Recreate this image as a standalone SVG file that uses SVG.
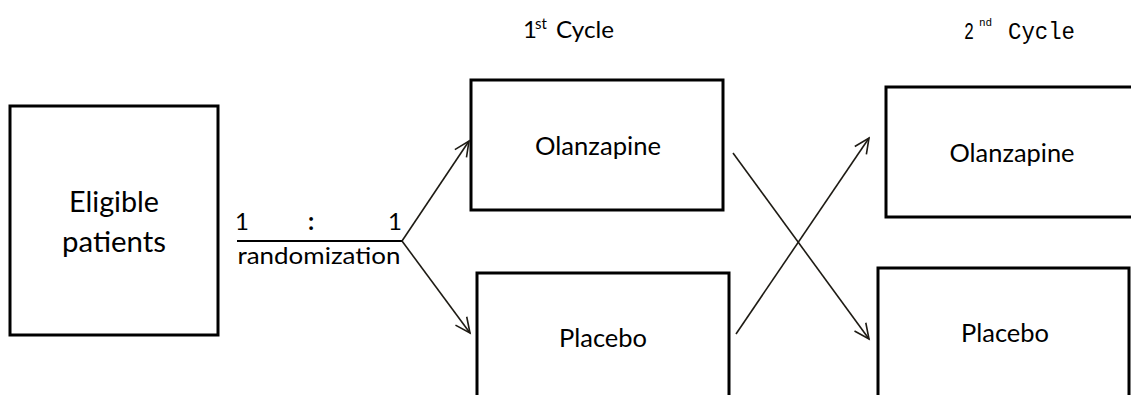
<svg xmlns="http://www.w3.org/2000/svg" width="1131" height="395" viewBox="0 0 1131 395">
<style>
.box{fill:#fff;stroke:#000;stroke-width:3}
.lbl{font-family:Lato,"Open Sans",sans-serif;fill:#000;text-anchor:middle}
.con{fill:none;stroke:#1e1b14;stroke-width:1.6}
.mono{font-family:"Liberation Mono",monospace;fill:#000}
</style>
<defs>
<marker id="arr" markerUnits="userSpaceOnUse" markerWidth="24" markerHeight="24" viewBox="-20 -12 24 24" refX="0" refY="0" orient="auto">
<path d="M-15,-7 L0,0 L-15,7" fill="none" stroke="#1e1b14" stroke-width="1.6"/>
</marker>
</defs>
<rect width="1131" height="395" fill="#fff"/>
<g id="eligible">
<rect class="box" x="10" y="106" width="208" height="229"/>
<text class="lbl" x="114" y="212" font-size="28" textLength="90" lengthAdjust="spacingAndGlyphs">Eligible</text>
<text class="lbl" x="114" y="252" font-size="28" textLength="104" lengthAdjust="spacingAndGlyphs">patients</text>
</g>
<g id="randomization">
<line x1="237" y1="241" x2="402" y2="241" stroke="#000" stroke-width="2"/>
<text class="lbl" x="242" y="230" font-size="24">1</text>
<text class="lbl" x="311" y="230" font-size="24" font-weight="bold">:</text>
<text class="lbl" x="395" y="230" font-size="24">1</text>
<text class="lbl" x="319" y="264" font-size="24" textLength="163" lengthAdjust="spacingAndGlyphs">randomization</text>
</g>
<g id="cycle1-label">
<text font-family="Lato,'Open Sans',sans-serif" font-size="24" fill="#000" x="523" y="38">1</text>
<text font-family="Lato,'Open Sans',sans-serif" font-size="15" fill="#000" x="535" y="29">st</text>
<text font-family="Lato,'Open Sans',sans-serif" font-size="24" fill="#000" x="556" y="38" textLength="58" lengthAdjust="spacingAndGlyphs">Cycle</text>
</g>
<g id="cycle2-label">
<text class="mono" font-size="24" x="964" y="39" textLength="10" lengthAdjust="spacingAndGlyphs">2</text>
<text class="mono" font-size="11" x="979" y="26">nd</text>
<text class="mono" font-size="24" x="1008" y="39" textLength="67" lengthAdjust="spacingAndGlyphs">Cycle</text>
</g>
<g id="olanzapine1">
<rect class="box" x="471" y="80" width="252" height="130"/>
<text class="lbl" x="598" y="155" font-size="25" textLength="126" lengthAdjust="spacingAndGlyphs">Olanzapine</text>
</g>
<g id="placebo1">
<rect class="box" x="477" y="273" width="252" height="140"/>
<text class="lbl" x="603" y="347" font-size="25" textLength="88" lengthAdjust="spacingAndGlyphs">Placebo</text>
</g>
<g id="olanzapine2">
<rect class="box" x="886" y="87" width="260" height="130"/>
<text class="lbl" x="1012" y="162" font-size="25" textLength="125" lengthAdjust="spacingAndGlyphs">Olanzapine</text>
</g>
<g id="placebo2">
<rect class="box" x="878" y="268" width="251" height="145"/>
<text class="lbl" x="1005" y="342" font-size="25" textLength="88" lengthAdjust="spacingAndGlyphs">Placebo</text>
</g>
<g id="connectors">
<line class="con" x1="402" y1="241" x2="469" y2="141" marker-end="url(#arr)"/>
<line class="con" x1="402" y1="241" x2="470" y2="333" marker-end="url(#arr)"/>
<line class="con" x1="733" y1="153" x2="869" y2="339" marker-end="url(#arr)"/>
<line class="con" x1="736" y1="334" x2="869" y2="138" marker-end="url(#arr)"/>
</g>
</svg>
